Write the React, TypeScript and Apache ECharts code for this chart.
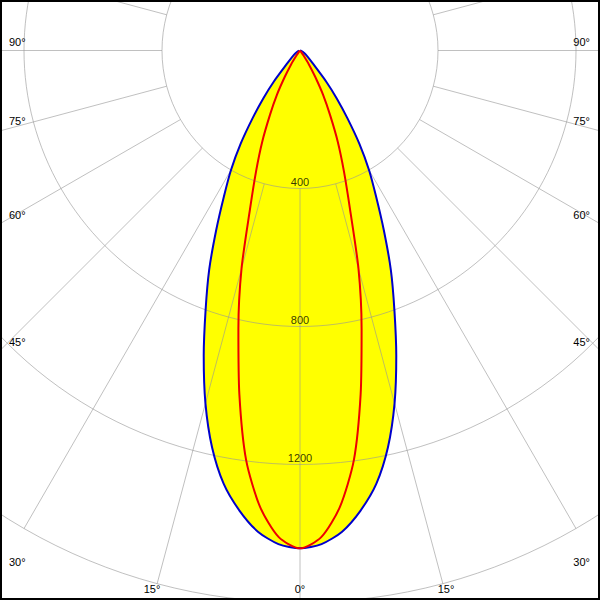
import React, { useEffect, useRef } from "react";
import * as echarts from "echarts";

// Gamma angles (degrees from nadir) and luminous intensities (cd)
const gamma = [0, 2.5, 5, 7.5, 10, 12.5, 15, 17.5, 20, 22.5, 25, 27.5, 30, 32.5, 35, 37.5, 40, 45, 50, 55, 60, 65, 70, 75, 80, 85, 90];
const planeC0 = [1443, 1432, 1400, 1345, 1275, 1178, 1059, 928, 800, 688, 575, 478, 400, 320, 240, 175, 120, 50, 30, 20, 14, 10, 6, 4, 2, 1, 0];
const planeC90 = [1443, 1412, 1328, 1197, 1012, 825, 655, 482, 372, 286, 206, 145, 88, 48, 18, 5, 0, 0, 0, 0, 0, 0, 0, 0, 0, 0, 0];

const ringValues = [400, 800, 1200];
const radialAngles = [0, 15, 30, 45, 60, 75, 90, 105, 120, 135, 150, 165, 180, 195, 210, 225, 240, 255, 270, 285, 300, 315, 330, 345];
const leftAngleLabels = ["90°", "75°", "60°", "45°", "30°"];
const bottomAngleLabels = ["15°", "0°", "15°"];

const GRID = "rgba(150,150,150,0.6)";
const FONT = "11px 'Liberation Sans', Arial, sans-serif";

function mirror(values: number[]) {
  const right = gamma.map((g, i) => [values[i], 360 - g]).reverse();
  const left = gamma.map((g, i) => [values[i], g]);
  return [...right, ...left];
}

export default function App() {
  const ref = useRef<HTMLDivElement>(null);
  useEffect(() => {
    if (!ref.current) return;
    const chart = echarts.init(ref.current, undefined, { renderer: "svg" });

    const radialSeries = radialAngles.map((a) => ({
      type: "line",
      coordinateSystem: "polar",
      data: [[400, a], [2000, a]],
      symbol: "none",
      silent: true,
      clip: false,
      z: 3,
      lineStyle: { color: GRID, width: 1 },
    }));

    const leftY = [42, 121, 215, 342, 562];
    const graphics: any[] = [];
    leftAngleLabels.forEach((t, i) => {
      graphics.push({
        type: "text",
        x: 9,
        y: leftY[i],
        z: 20,
        style: { text: t, font: FONT, fill: "#000", align: "left", verticalAlign: "middle" },
      });
      graphics.push({
        type: "text",
        x: 590,
        y: leftY[i],
        z: 20,
        style: { text: t, font: FONT, fill: "#000", align: "right", verticalAlign: "middle" },
      });
    });
    const bottomX = [152, 300, 446];
    bottomAngleLabels.forEach((t, i) => {
      graphics.push({
        type: "text",
        x: bottomX[i],
        y: 589,
        z: 20,
        style: { text: t, font: FONT, fill: "#000", align: "center", verticalAlign: "middle" },
      });
    });
    graphics.push({
      type: "rect",
      z: 30,
      shape: { x: 1, y: 1, width: 598, height: 598 },
      style: { fill: "none", stroke: "#000", lineWidth: 2 },
    });

    chart.setOption({
      animation: false,
      backgroundColor: "#fff",
      polar: { center: [300, 50.5], radius: 552 },
      angleAxis: {
        type: "value",
        min: 0,
        max: 360,
        startAngle: 270,
        clockwise: true,
        axisLine: { show: false },
        axisTick: { show: false },
        axisLabel: { show: false },
        splitLine: { show: false },
      },
      radiusAxis: {
        type: "value",
        min: 0,
        max: 1600,
        interval: 400,
        z: 4,
        axisLine: { show: false },
        axisTick: { show: false },
        axisLabel: { show: false },
        splitLine: { show: true, lineStyle: { color: GRID, width: 1 } },
      },
      graphic: graphics,
      series: [
        {
          type: "line",
          coordinateSystem: "polar",
          data: mirror(planeC0),
          symbol: "none",
          smooth: 0.25,
          silent: true,
          z: 1,
          lineStyle: { width: 0, opacity: 0 },
          areaStyle: { color: "#ffff00", opacity: 1 },
        },
        ...radialSeries,
        {
          type: "line",
          coordinateSystem: "polar",
          data: mirror(planeC0),
          symbol: "none",
          smooth: 0.25,
          z: 6,
          lineStyle: { color: "#0000cc", width: 2 },
        },
        {
          type: "line",
          coordinateSystem: "polar",
          data: mirror(planeC90),
          symbol: "none",
          smooth: 0.25,
          z: 6,
          lineStyle: { color: "#ee0000", width: 2 },
        },
        {
          type: "scatter",
          coordinateSystem: "polar",
          data: ringValues.map((v) => [v, 0]),
          symbolSize: 0,
          silent: true,
          z: 10,
          label: {
            show: true,
            position: "top",
            distance: 1,
            formatter: (p: any) => String(p.value[0]),
            color: "#000",
            fontFamily: "'Liberation Sans', Arial, sans-serif",
            fontSize: 11,
            lineHeight: 11,
          },
        },
      ],
    });
    return () => chart.dispose();
  }, []);
  return (
    <div
      ref={ref}
      style={{ position: "absolute", left: 0, top: 0, width: 600, height: 600 }}
    />
  );
}
